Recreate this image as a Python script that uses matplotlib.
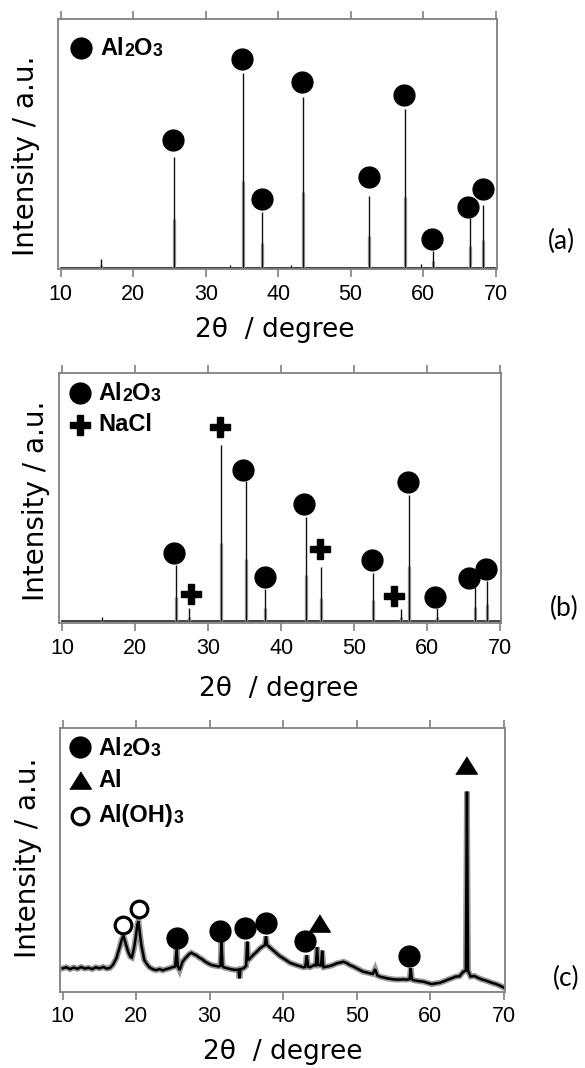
import matplotlib
matplotlib.use('Agg')
import matplotlib.pyplot as plt

plt.rcParams['font.family'] = 'DejaVu Sans'

# (a) as-received Al2O3
a_peak_x = [15.5, 25.58, 33.4, 35.15, 37.78, 41.7, 43.36, 52.55, 57.5, 59.7, 61.3, 66.52, 68.2]
a_peak_y = [3.9, 44.9, 1.8, 78.3, 22.7, 1.8, 68.9, 29.2, 63.9, 2.0, 7.3, 20.3, 25.6]
a_base_x = [10, 70]
a_base_y = [0.6, 0.6]
a_circ_x = [25.45, 34.98, 37.81, 43.22, 52.6, 57.33, 61.25, 66.24, 68.2]
a_circ_y = [51.6, 83.9, 28.0, 74.9, 36.9, 69.6, 12.0, 24.9, 31.9]

# (b) Al2O3 + NaCl
b_peak_x = [15.5, 25.58, 27.3, 31.7, 35.15, 37.78, 43.36, 45.45, 52.55, 56.4, 57.5, 61.3, 66.52, 68.2]
b_peak_y = [2.7, 23.3, 6.0, 71.3, 57.0, 13.6, 42.7, 22.7, 20.3, 5.6, 51.3, 6.0, 14.7, 17.0]
b_base_x = [10, 70]
b_base_y = [1.1, 1.1]
b_circ_x = [25.3, 34.8, 37.8, 43.1, 52.5, 57.4, 61.1, 65.8, 68.05]
b_circ_y = [28.3, 61.3, 18.7, 47.6, 25.3, 56.7, 10.4, 18.0, 21.6]
b_plus_x = [27.7, 31.6, 45.3, 55.4]
b_plus_y = [11.6, 78.7, 29.6, 10.9]

# (c) noisy pattern
c_x = [10.0, 10.5, 11.0, 11.5, 12.0, 12.5, 13.0, 13.5, 14.0, 14.5, 15.0, 15.5, 16.0, 16.4,
       16.8, 17.3, 17.7, 18.0, 18.25, 18.5, 18.9, 19.2, 19.4, 19.7, 19.95, 20.15, 20.3, 20.5,
       20.7, 21.1, 21.5, 21.8, 22.3, 22.7, 23.2, 23.6, 24.0, 24.5, 24.9, 25.3, 25.5, 25.65,
       25.9, 26.3, 26.7, 27.2, 27.5, 27.8, 28.2, 28.5, 29.0, 29.4, 29.9, 30.3, 30.8, 31.2,
       31.45, 31.6, 31.75, 31.9, 32.4, 33.0, 33.5, 33.9, 34.05, 34.2, 34.6, 34.95, 35.1, 35.25,
       35.6, 35.9, 36.4, 36.85, 37.2, 37.5, 37.65, 37.8, 38.2, 38.6, 39.1, 39.5, 40.0, 40.5,
       40.9, 41.4, 41.8, 42.3, 42.7, 43.0, 43.2, 43.4, 43.65, 44.2, 44.45, 44.6, 44.75, 44.9,
       45.15, 45.3, 45.45, 45.5, 46.0, 46.4, 46.9, 47.3, 47.8, 48.2, 48.7, 49.1, 49.6, 50.0,
       50.5, 50.9, 51.4, 51.8, 52.2, 52.5, 52.8, 53.2, 53.7, 54.1, 54.6, 55.0, 55.6, 56.3,
       56.8, 57.2, 57.35, 57.5, 57.7, 58.3, 59.1, 59.6, 60.2, 60.8, 61.3, 61.9, 62.5, 63.0,
       63.4, 64.0, 64.5, 64.85, 65.0, 65.15, 65.5, 66.0, 66.5, 67.0, 67.5, 68.0, 68.5, 69.0,
       69.5, 70.0]
c_y = [8.9, 9.3, 8.6, 9.2, 8.7, 9.4, 8.8, 9.1, 8.6, 9.3, 8.9, 9.4, 8.8, 9.0,
       10.1, 12.7, 16.5, 19.5, 21.3, 19.0, 15.2, 13.3, 13.0, 16.5, 21.0, 25.5, 26.8, 22.0,
       17.7, 12.0, 10.3, 9.3, 8.5, 8.2, 8.6, 8.1, 8.5, 8.9, 9.3, 9.6, 16.5, 9.8,
       8.2, 11.4, 12.8, 14.3, 14.8, 14.3, 13.8, 13.1, 12.3, 11.4, 10.6, 10.1, 9.8, 9.6,
       9.8, 19.0, 9.8, 9.3, 8.9, 8.5, 8.3, 8.4, 5.1, 8.6, 8.9, 9.8, 19.0, 12.0,
       13.0, 13.9, 15.2, 16.5, 17.2, 17.7, 21.0, 17.8, 16.8, 15.8, 14.6, 13.6, 12.7, 11.8,
       11.0, 10.5, 10.1, 9.7, 9.3, 9.4, 13.9, 9.5, 9.3, 10.1, 10.0, 16.8, 10.3, 10.1,
       10.0, 15.6, 9.8, 9.3, 9.6, 9.8, 10.3, 10.8, 11.1, 11.4, 10.8, 10.1, 9.5, 8.9,
       8.2, 7.6, 7.3, 7.0, 6.8, 8.6, 6.2, 5.7, 5.4, 5.1, 4.9, 4.7, 4.6, 4.7,
       4.6, 4.8, 8.9, 4.8, 4.4, 4.1, 3.8, 3.4, 2.9, 3.2, 3.4, 4.0, 4.7, 5.2,
       5.7, 5.9, 7.6, 8.0, 76.0, 8.0, 5.8, 6.0, 5.3, 4.7, 4.3, 3.8, 3.3, 2.9,
       2.3, 1.6]
c_circ_x = [25.5, 31.4, 34.8, 37.7, 43.0, 57.06]
c_circ_y = [20.3, 23.0, 24.3, 26.2, 19.2, 13.5]
c_tri_x = [44.9, 64.83]
c_tri_y = [26.2, 86.0]
c_open_x = [18.2, 20.35]
c_open_y = [25.3, 31.6]

xticks = [10, 20, 30, 40, 50, 60, 70]
tri = [(-1, -0.8), (1, -0.8), (0, 0.8)]
fig = plt.figure(figsize=(5.85, 10.68), dpi=100)


def chem(ax, x, y, parts, size=17):
    # formula text with small (not lowered) digits
    t = None
    for s, small in parts:
        fs = size * 0.75 if small else size
        if t is None:
            t = ax.text(x, y, s, fontsize=fs, fontweight='bold', family='Liberation Sans',
                        va='center', ha='left')
        else:
            t = ax.annotate(s, xy=(1, 0), xycoords=t, fontsize=fs, fontweight='bold',
                            family='Liberation Sans', va='bottom', ha='left')


def panel(rect, xlim, ylab, xlab, letter):
    ax = fig.add_axes(rect)
    ax.set_xlim(*xlim)
    ax.set_ylim(0, 100)
    ax.set_yticks([])
    ax.set_xticks(xticks, [str(v) for v in xticks], fontsize=15.5, family='Liberation Sans')
    ax.tick_params(axis='x', direction='out', length=6, width=1.2, color='#808080',
                   top=True, labeltop=False, pad=4.5)
    for s in ax.spines.values():
        s.set_color('#808080')
        s.set_linewidth(1.3)
    ax.set_ylabel('Intensity / a.u.', fontsize=20, va='center')
    ax.yaxis.set_label_coords(*ylab)
    ax.set_xlabel('2θ  / degree', fontsize=19, va='center')
    ax.xaxis.set_label_coords(*xlab)
    fig.text(letter[1] / 585, 1 - letter[2] / 1068, letter[0], fontsize=19,
             family='Lato', ha='center', va='center')
    return ax


def sticks(ax, px, py, base):
    ax.vlines(px, base, [0.45 * v for v in py], color='#a8a8a8', lw=2.4)
    ax.vlines(px, base, py, color='#111111', lw=1.0)


# (a)
ax = panel([0.0991, 0.7481, 0.7511, 0.2341], (9.6, 70.25), (-0.073, 0.452), (0.494, -0.244),
           ('(a)', 561, 241))
ax.plot(a_base_x, a_base_y, color='#333333', lw=1.3)
sticks(ax, a_peak_x, a_peak_y, a_base_y[0])
ax.plot(a_circ_x, a_circ_y, 'o', color='black', ms=15, ls='none')
ax.plot([12.83], [88.6], 'o', color='black', ms=15)
chem(ax, 15.5, 88.3, [('Al', False), ('2', True), ('O', False), ('3', True)])

# (b)
ax = panel([0.1002, 0.4164, 0.7564, 0.2341], (9.49, 70.15), (-0.052, 0.489), (0.498, -0.263),
           ('(b)', 564, 608))
ax.plot(b_base_x, b_base_y, color='#333333', lw=1.3)
sticks(ax, b_peak_x, b_peak_y, b_base_y[0])
ax.plot(b_circ_x, b_circ_y, 'o', color='black', ms=15, ls='none')
ax.plot(b_plus_x, b_plus_y, 'P', color='black', ms=15, ls='none')
ax.plot([12.36], [92.0], 'o', color='black', ms=15)
ax.plot([12.36], [79.3], 'P', color='black', ms=15)
chem(ax, 15.0, 92.0, [('Al', False), ('2', True), ('O', False), ('3', True)])
chem(ax, 15.0, 79.6, [('NaCl', False)])

# (c)
ax = panel([0.1021, 0.0714, 0.7603, 0.2465], (9.59, 70.11), (-0.071, 0.508), (0.502, -0.229),
           ('(c)', 566, 978))
ax.plot(c_x, c_y, color='#444444', lw=4.2, alpha=0.55, solid_joinstyle='miter')
ax.plot(c_x, c_y, color='black', lw=1.8, solid_joinstyle='miter')
ax.plot(c_circ_x, c_circ_y, 'o', color='black', ms=15, ls='none')
ax.plot(c_tri_x, c_tri_y, marker=tri, color='black', ms=15.5, ls='none')
ax.plot(c_open_x, c_open_y, 'o', mfc='white', mec='black', mew=2.3, ms=12, ls='none')
ax.plot([12.37], [93.0], 'o', color='black', ms=15)
ax.plot([12.37], [80.4], marker=tri, color='black', ms=15.5)
ax.plot([12.37], [66.6], 'o', mfc='white', mec='black', mew=2.3, ms=12)
chem(ax, 14.9, 92.4, [('Al', False), ('2', True), ('O', False), ('3', True)])
chem(ax, 14.9, 80.4, [('Al', False)])
chem(ax, 14.9, 66.8, [('Al(OH)', False), ('3', True)])

fig.savefig('out.png', dpi=100)
